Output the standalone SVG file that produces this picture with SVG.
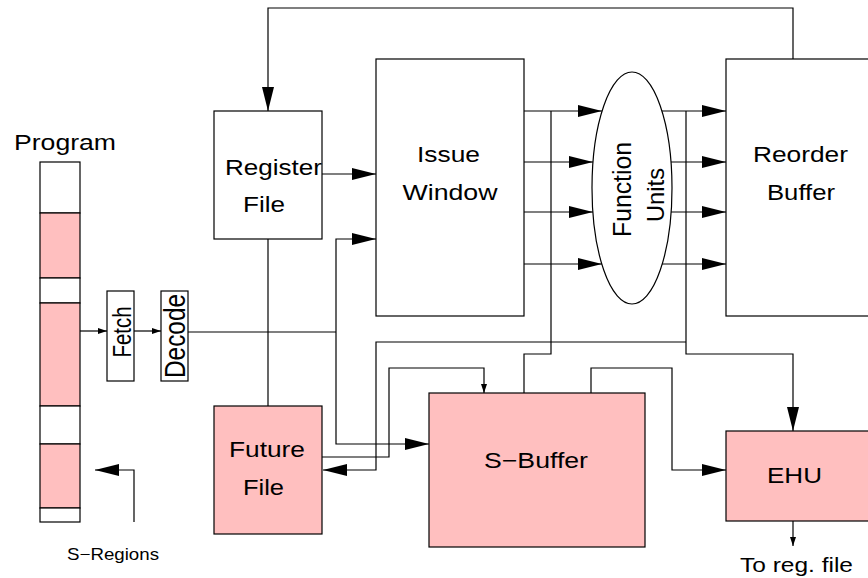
<svg xmlns="http://www.w3.org/2000/svg" width="868" height="578" viewBox="0 0 868 578">
  <style>
    .box { fill: #ffffff; stroke: #000000; stroke-width: 1.2; }
    .pink { fill: #ffbfbf; stroke: #000000; stroke-width: 1.2; }
    .wire { fill: none; stroke: #000000; stroke-width: 1.2; }
    .lbl { font-family: "Liberation Sans", Arial, sans-serif; font-size: 22px; fill: #000000; text-anchor: middle; }
    .small { font-size: 16.5px; }
  </style>
  <defs>
    <marker id="big" markerUnits="userSpaceOnUse" markerWidth="24" markerHeight="12" refX="24" refY="6" orient="auto">
      <path d="M0,0 L24,6 L0,12 z" fill="#000000"/>
    </marker>
    <marker id="tiny" markerUnits="userSpaceOnUse" markerWidth="9" markerHeight="6" refX="9" refY="3" orient="auto">
      <path d="M0,0 L9,3 L0,6 z" fill="#000000"/>
    </marker>
  </defs>

  <rect width="868" height="578" fill="#ffffff"/>

  <!-- program memory strip -->
  <g id="program">
    <text class="lbl" x="65" y="150" textLength="102" lengthAdjust="spacingAndGlyphs">Program</text>
    <rect class="box" x="40" y="162" width="40" height="51"/>
    <rect class="pink" x="40" y="213" width="40" height="65"/>
    <rect class="box" x="40" y="278" width="40" height="25"/>
    <rect class="pink" x="40" y="303" width="40" height="103"/>
    <rect class="box" x="40" y="406" width="40" height="38"/>
    <rect class="pink" x="40" y="444" width="40" height="64"/>
    <rect class="box" x="40" y="508" width="40" height="14"/>
  </g>

  <g id="s-regions">
    <text class="lbl small" x="113" y="560" textLength="92" lengthAdjust="spacingAndGlyphs">S−Regions</text>
  </g>

  <g id="fetch">
    <rect class="box" x="107" y="291" width="27" height="90"/>
    <text class="lbl" font-size="26" style="font-size:26px" transform="translate(131,332) rotate(-90)" textLength="51" lengthAdjust="spacingAndGlyphs">Fetch</text>
  </g>

  <g id="decode">
    <rect class="box" x="161" y="291" width="27" height="90"/>
    <text class="lbl" style="font-size:29px" transform="translate(185,336) rotate(-90)" textLength="84" lengthAdjust="spacingAndGlyphs">Decode</text>
  </g>

  <g id="register-file">
    <rect class="box" x="214" y="111" width="108" height="128"/>
    <text class="lbl" x="273.5" y="175" textLength="97" lengthAdjust="spacingAndGlyphs">Register</text>
    <text class="lbl" x="264" y="212" textLength="42" lengthAdjust="spacingAndGlyphs">File</text>
  </g>

  <g id="future-file">
    <rect class="pink" x="214" y="406" width="108" height="128"/>
    <text class="lbl" x="267" y="457" textLength="76" lengthAdjust="spacingAndGlyphs">Future</text>
    <text class="lbl" x="263.5" y="495" textLength="41" lengthAdjust="spacingAndGlyphs">File</text>
  </g>

  <g id="issue-window">
    <rect class="box" x="376" y="59" width="148" height="257"/>
    <text class="lbl" x="448.5" y="162" textLength="63" lengthAdjust="spacingAndGlyphs">Issue</text>
    <text class="lbl" x="450" y="200" textLength="95" lengthAdjust="spacingAndGlyphs">Window</text>
  </g>

  <g id="function-units">
    <ellipse class="box" cx="632" cy="188" rx="40" ry="116"/>
    <text class="lbl" style="font-size:25px" transform="translate(631,189.5) rotate(-90)" textLength="95" lengthAdjust="spacingAndGlyphs">Function</text>
    <text class="lbl" style="font-size:24px" transform="translate(664,195) rotate(-90)" textLength="54" lengthAdjust="spacingAndGlyphs">Units</text>
  </g>

  <g id="reorder-buffer">
    <rect class="box" x="726" y="59" width="160" height="257"/>
    <text class="lbl" x="800.5" y="162" textLength="95" lengthAdjust="spacingAndGlyphs">Reorder</text>
    <text class="lbl" x="801" y="200" textLength="68" lengthAdjust="spacingAndGlyphs">Buffer</text>
  </g>

  <g id="s-buffer">
    <rect class="pink" x="429" y="393" width="216" height="154"/>
    <text class="lbl" x="536" y="468" textLength="104" lengthAdjust="spacingAndGlyphs">S−Buffer</text>
  </g>

  <g id="ehu">
    <rect class="pink" x="726" y="431" width="160" height="90"/>
    <text class="lbl" x="794.5" y="483" textLength="55" lengthAdjust="spacingAndGlyphs">EHU</text>
  </g>

  <g id="to-reg-file">
    <text class="lbl" style="font-size:21px" x="796.5" y="572" textLength="113" lengthAdjust="spacingAndGlyphs">To reg. file</text>
  </g>

  <!-- connectors -->
  <g id="connectors">
    <!-- retire path back to the register file -->
    <path class="wire" d="M793,59 V8 H268 V111" marker-end="url(#big)"/>
    <path class="wire" d="M322,174 H376" marker-end="url(#big)"/>
    <path class="wire" d="M268,239 V406"/>
    <!-- front end -->
    <path class="wire" d="M80,331 H107" marker-end="url(#tiny)"/>
    <path class="wire" d="M134,331 H161" marker-end="url(#tiny)"/>
    <path class="wire" d="M188,332 H336"/>
    <path class="wire" d="M336,332 V239 H376" marker-end="url(#big)"/>
    <path class="wire" d="M336,332 V444 H429" marker-end="url(#big)"/>
    <path class="wire" d="M134,522 V470 H95" marker-end="url(#big)"/>
    <!-- future file to S-Buffer -->
    <path class="wire" d="M322,457 H389 V368 H484 V393" marker-end="url(#tiny)"/>
    <!-- issue to function units -->
    <path class="wire" d="M524,111 H602" marker-end="url(#big)"/>
    <path class="wire" d="M524,162 H593" marker-end="url(#big)"/>
    <path class="wire" d="M524,212 H593" marker-end="url(#big)"/>
    <path class="wire" d="M524,264 H602" marker-end="url(#big)"/>
    <path class="wire" d="M551,111 V354 H524 V393"/>
    <!-- function units to reorder buffer -->
    <path class="wire" d="M662,111 H726" marker-end="url(#big)"/>
    <path class="wire" d="M671,162 H726" marker-end="url(#big)"/>
    <path class="wire" d="M671,212 H726" marker-end="url(#big)"/>
    <path class="wire" d="M662,264 H726" marker-end="url(#big)"/>
    <path class="wire" d="M686,111 V354 H793 V431" marker-end="url(#big)"/>
    <path class="wire" d="M686,342 H376 V470 H323" marker-end="url(#big)"/>
    <!-- S-Buffer to EHU -->
    <path class="wire" d="M591,393 V368 H672 V470 H726" marker-end="url(#big)"/>
    <path class="wire" d="M793,521 V546" marker-end="url(#tiny)"/>
  </g>
</svg>
